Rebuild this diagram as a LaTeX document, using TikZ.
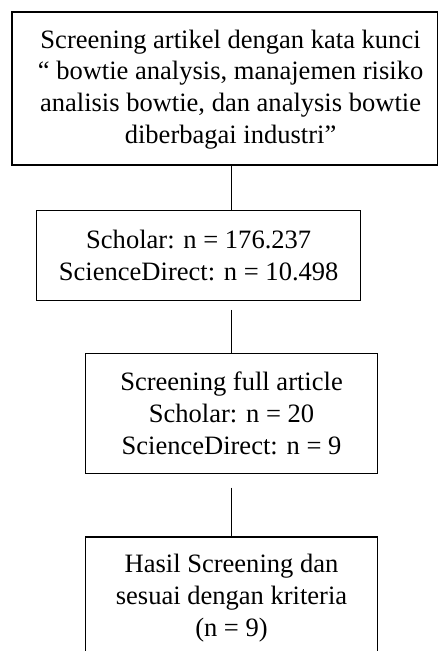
\documentclass[tikz,border=0pt]{standalone}
\usepackage{fontspec}
\setmainfont{Liberation Serif}
\begin{document}
\begin{tikzpicture}[x=0.75pt,y=-0.75pt]
	\tikzset{kotak/.style={draw=black, line width=0.8pt, align=center, inner sep=0pt, outer sep=0pt,
			font=\fontsize{19.9}{23.8}\selectfont},
		teks/.style={align=center, inner sep=0pt, font=\fontsize{19.9}{23.8}\selectfont}}
	\def\px{0.75pt}
	\clip (0,0) rectangle (438,651);
	\node[kotak, minimum width=425.5*\px, minimum height=153*\px] (kunci) at (224.75,88.5) {};
	\node[teks] (kunciteks) at ([xshift=5.8*\px, yshift=-1*\px]kunci.center)
		{Screening artikel dengan kata kunci\\“ bowtie analysis, manajemen risiko\\analisis bowtie, dan analysis bowtie\\diberbagai industri”};
	\node[kotak, minimum width=324*\px, minimum height=90.3*\px] (jumlah) at (198.7,255.8)
		{Scholar: n = 176.237\\ScienceDirect: n = 10.498};
	\node[kotak, minimum width=292.4*\px, minimum height=120.4*\px] (fulltext) at (231.5,413.5)
		{Screening full article\\Scholar: n = 20\\ScienceDirect: n = 9};
	\node[kotak, minimum width=292.4*\px, minimum height=122*\px] (hasil) at (231.5,598)
		{Hasil Screening dan\\sesuai dengan kriteria\\(n = 9)};
	\draw[line width=0.8pt] (fulltext.north |- kunci.south) -- (fulltext.north |- jumlah.north);
	\draw[line width=0.8pt, shorten <=9*\px] (fulltext.north |- jumlah.south) -- (fulltext.north);
	\draw[line width=0.8pt, shorten <=14*\px] (fulltext.south) -- (hasil.north);
\end{tikzpicture}
\end{document}
